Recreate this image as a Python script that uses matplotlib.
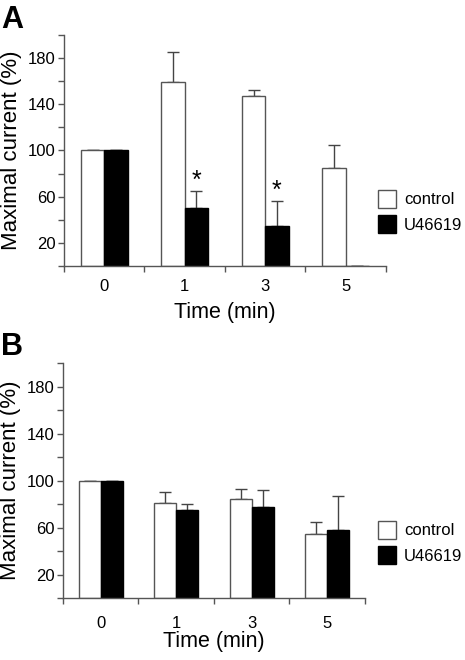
import numpy as np
import matplotlib.pyplot as plt
from matplotlib.patches import Patch

plt.rcParams['font.family'] = ['Liberation Sans', 'DejaVu Sans']

# Data
times = ['0', '1', '3', '5']
series = ['control', 'U46619']

a_control = [100, 159, 147, 85]
a_control_err = [0, 26, 5, 20]
a_u46619 = [100, 50, 35, 0]
a_u46619_err = [0, 15, 21, 0]
a_signif = [False, True, True, False]

b_control = [100, 81, 84, 55]
b_control_err = [0, 9, 9, 10]
b_u46619 = [100, 75, 78, 58]
b_u46619_err = [0, 5, 14, 29]

EDGE = '#555555'
BAR_W = 0.29


def draw_panel(ax, ctrl, ctrl_err, drug, drug_err, signif=None, xpad=14, xlabelpad=0):
    x = np.arange(len(times))
    ax.bar(x - BAR_W / 2, ctrl, BAR_W, color='white', edgecolor=EDGE, linewidth=1.0, zorder=2)
    ax.bar(x + BAR_W / 2, drug, BAR_W, color='black', edgecolor='black', linewidth=1.0, zorder=2)
    # upward-only error bars
    ax.errorbar(x - BAR_W / 2, ctrl, yerr=[np.zeros(len(x)), ctrl_err], fmt='none',
                ecolor='#444444', elinewidth=1.0, capsize=4.3, capthick=1.0, zorder=1)
    ax.errorbar(x + BAR_W / 2, drug, yerr=[np.zeros(len(x)), drug_err], fmt='none',
                ecolor='#444444', elinewidth=1.0, capsize=4.3, capthick=1.0, zorder=1)
    if signif is not None:
        for i, s in enumerate(signif):
            if s:
                ax.text(x[i] + BAR_W / 2, drug[i] + drug_err[i] + 9, '*', ha='center',
                        va='center', fontsize=18)

    ax.set_xlim(-0.5, len(times) - 0.5)
    ax.set_ylim(0, 200)
    ax.set_yticks(np.arange(0, 201, 20))
    ax.set_yticklabels(['' if v % 40 == 0 else str(v) for v in range(0, 201, 20)])
    ax.set_xticks(x)
    ax.set_xticklabels(times)
    ax.set_xticks(np.arange(-0.5, len(times)), minor=True)
    ax.tick_params(axis='x', which='major', length=0, pad=xpad, labelsize=12)
    ax.tick_params(axis='x', which='minor', length=4, width=1.0, color=EDGE, direction='out')
    ax.tick_params(axis='y', length=4, width=1.0, color=EDGE, labelsize=12, pad=2)
    for side in ['top', 'right']:
        ax.spines[side].set_visible(False)
    for side in ['left', 'bottom']:
        ax.spines[side].set_color(EDGE)
        ax.spines[side].set_linewidth(1.0)
    ax.set_xlabel('Time (min)', fontsize=15.5, labelpad=xlabelpad)
    ax.set_ylabel('Maximal current (%)', fontsize=16, labelpad=4)


fig = plt.figure(figsize=(4.65, 6.6), dpi=100)
ax_a = fig.add_axes([0.1376, 0.597, 0.6925, 0.350])
ax_b = fig.add_axes([0.1355, 0.0935, 0.649, 0.3565])

draw_panel(ax_a, a_control, a_control_err, a_u46619, a_u46619_err, a_signif,
           xpad=9.5, xlabelpad=5.5)
draw_panel(ax_b, b_control, b_control_err, b_u46619, b_u46619_err, xpad=13, xlabelpad=0)

handles = [Patch(facecolor='white', edgecolor=EDGE, linewidth=1.0),
           Patch(facecolor='black', edgecolor='black', linewidth=1.0)]
for top in [190 / 660, 521 / 660]:
    fig.legend(handles, series, loc='upper left', bbox_to_anchor=(378 / 465, 1 - top),
               frameon=False, fontsize=12, handlelength=1.05, handleheight=1.25,
               handletextpad=0.5, labelspacing=0.45, borderpad=0, borderaxespad=0)

fig.text(0.002, 0.993, 'A', fontsize=22, fontweight='bold', va='top', ha='left')
fig.text(0.002, 0.497, 'B', fontsize=22, fontweight='bold', va='top', ha='left')

fig.savefig('out.png', dpi=100)
